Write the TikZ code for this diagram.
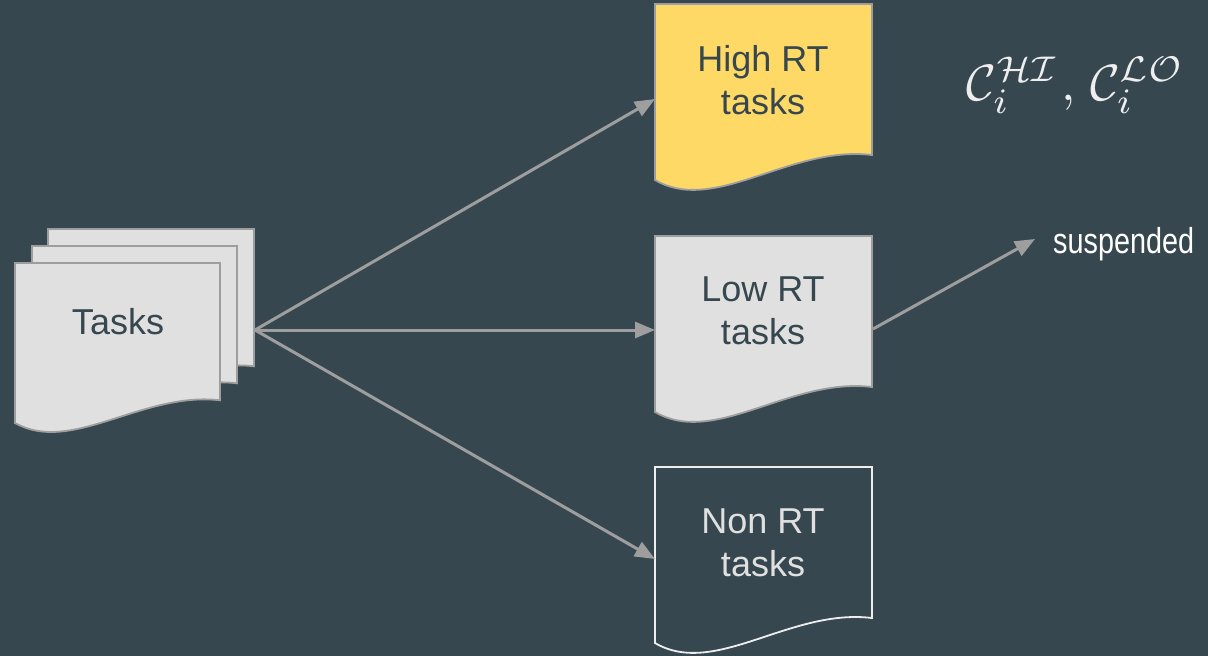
\documentclass[tikz,border=0pt]{standalone}
\usepackage{fontspec}
\setmainfont{Liberation Sans}
\newfontfamily\condfont[FakeStretch=0.8]{Liberation Sans}
\usetikzlibrary{arrows.meta}
\definecolor{bg}{HTML}{37474F}
\definecolor{pagefill}{HTML}{E0E0E0}
\definecolor{pageline}{HTML}{9E9E9E}
\definecolor{yel}{HTML}{FFD966}
\definecolor{lightline}{HTML}{EEEEEE}
\newcommand\docshape[5]{%
  \draw[#5] (#1,#2) -- ({#1+#3},#2) -- ({#1+#3},{#2+0.858*#4})
    .. controls ({#1+0.622*#3},{#2+0.801*#4}) and ({#1+0.276*#3},{#2+1.199*#4}) .. (#1,{#2+#4}) -- cycle;}
\tikzset{
  grayDoc/.style={fill=pagefill,draw=pageline,line width=1.8pt},
  yelDoc/.style={fill=yel,draw=pageline,line width=1.8pt},
  darkDoc/.style={draw=lightline,line width=1.8pt},
  boxtext/.style={font=\fontsize{36}{43}\selectfont,align=center,text=bg},
  arr/.style={draw=pageline,line width=3pt,-{Triangle[length=20pt,width=16pt]}},
}
\begin{document}
\begin{tikzpicture}[x=1pt,y=-1pt]
\useasboundingbox (0,0) rectangle (1208,656);
\fill[bg] (0,0) rectangle (1208,656);
% Tasks stack
\docshape{48}{229}{206}{160}{grayDoc}
\docshape{32}{246}{205}{160}{grayDoc}
\docshape{15}{263}{205}{160}{grayDoc}
\node[boxtext] (tasks) at (118,322) {Tasks};
% High RT
\docshape{655}{4}{217}{176}{yelDoc}
\node[boxtext] (high) at (763,80) {High RT\\tasks};
% Low RT
\docshape{655}{236}{217}{176}{grayDoc}
\node[boxtext] (low) at (763,311) {Low RT\\tasks};
% Non RT
\docshape{655}{467}{217}{176}{darkDoc}
\node[boxtext,text=pagefill] (non) at (763,543) {Non RT\\tasks};
% connector endpoints
\coordinate (tasksE) at (255,330);
\coordinate (highW) at (655,99);
\coordinate (lowW) at (655,330);
\coordinate (nonW) at (655,559);
\coordinate (lowE) at (873,329);
\coordinate (suspT) at (1035,239);
\draw[arr] (tasksE) -- (highW);
\draw[arr] (tasksE) -- (lowW);
\draw[arr] (tasksE) -- (nonW);
\draw[arr] (lowE) -- (suspT);
\node[anchor=base west,text=white,font=\condfont\fontsize{36}{40}\selectfont,inner sep=0pt] (susp) at (1053,253) {suspended};
\node[anchor=base west,text=lightline,inner sep=0pt] (cexpr) at (966,100)
  {\scalebox{5.1}{$\mathcal{C}_i^{\mathcal{HI}}\mkern1mu,\mkern2mu\mathcal{C}_i^{\mathcal{LO}}$}};
\end{tikzpicture}
\end{document}
